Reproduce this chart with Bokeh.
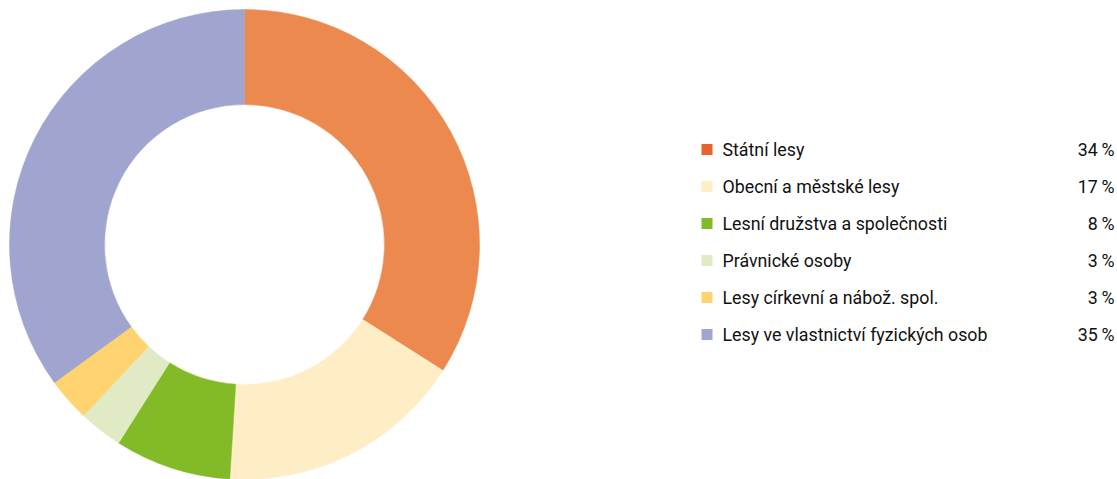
from bokeh.plotting import figure
from bokeh.models import ColumnDataSource, Range1d
from bokeh.core.properties import value
from bokeh.embed import file_html
from bokeh.resources import INLINE
import math

categories = ["Státní lesy", "Obecní a městské lesy", "Lesní družstva a společnosti",
              "Právnické osoby", "Lesy církevní a nábož. spol.", "Lesy ve vlastnictví fyzických osob"]
shares = [34, 17, 8, 3, 3, 35]
slice_colors = ["#EB894F", "#FFEDC6", "#82BA28", "#E0EBC6", "#FFD470", "#9FA5CF"]
legend_colors = ["#E2652B", "#FFEDC6", "#82BA28", "#E0EBC6", "#FFD470", "#9FA5CF"]

W, H = 1117, 479
p = figure(width=W, height=H, output_backend="svg", toolbar_location=None,
           x_range=Range1d(0, W), y_range=Range1d(0, H), min_border=0,
           outline_line_color=None, background_fill_color="white")
p.axis.visible = False
p.grid.visible = False

# donut
total = sum(shares)
starts, ends = [], []
acc = 0.0
for s in shares:
    a0 = math.pi / 2 - 2 * math.pi * acc / total
    acc += s
    a1 = math.pi / 2 - 2 * math.pi * acc / total
    starts.append(a1)
    ends.append(a0)
cx, cy = 244, H - 244
src = ColumnDataSource(dict(start=starts, end=ends, color=slice_colors))
p.annular_wedge(x=cx, y=cy, inner_radius=140, outer_radius=235,
                inner_radius_units="screen", outer_radius_units="screen",
                start_angle="start", end_angle="end", direction="anticlock",
                fill_color="color", line_color="color", line_width=0.5, source=src)

# legend
n = len(categories)
ys = [H - (149 + 37 * i) for i in range(n)]
lsrc = ColumnDataSource(dict(
    x=[706.5] * n, y=ys, color=legend_colors, label=categories,
    tx=[722] * n, px=[1114] * n,
    pct=[f"{v}\u2009%" for v in shares]))
p.rect(x="x", y="y", width=11, height=11, width_units="screen", height_units="screen",
       fill_color="color", line_color=None, source=lsrc)
font = value("Roboto")
p.text(x="tx", y="y", text="label", text_font=font, text_font_size="17.8px",
       text_baseline="middle", text_align="left", text_color="#111111", source=lsrc)
p.text(x="px", y="y", text="pct", text_font=font, text_font_size="17.8px",
       text_baseline="middle", text_align="right", text_color="#111111", source=lsrc)

open("out.html", "w").write(file_html(p, INLINE))
